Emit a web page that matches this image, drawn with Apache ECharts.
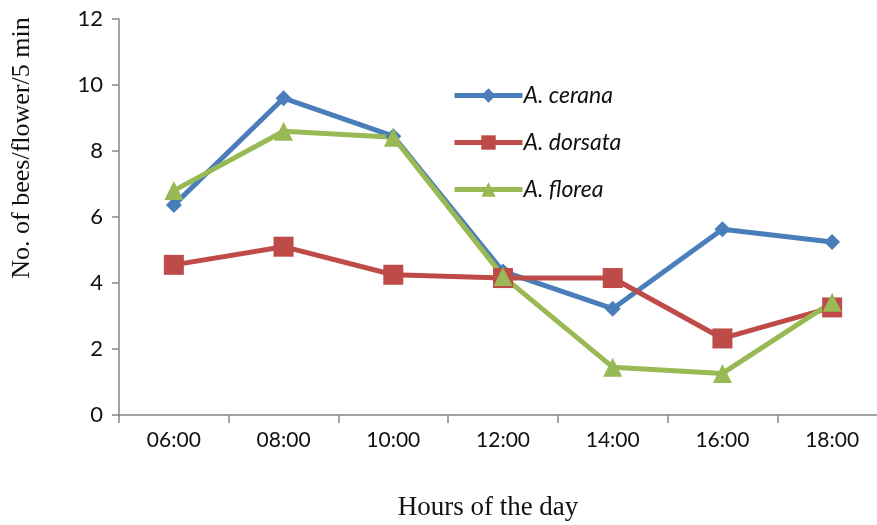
<!DOCTYPE html>
<html>
<head>
<meta charset="utf-8">
<script src="https://cdn.jsdelivr.net/npm/echarts@6/dist/echarts.min.js"></script>
<style>html,body{margin:0;padding:0;background:#fff}#c{width:877px;height:525px}</style>
</head>
<body>
<div id="c"></div>
<script>
const categories = ['06:00','08:00','10:00','12:00','14:00','16:00','18:00'];
const cerana  = [6.36, 9.6, 8.45, 4.35, 3.22, 5.63, 5.24];
const dorsata = [4.55, 5.1, 4.25, 4.15, 4.15, 2.32, 3.26];
const florea  = [6.8, 8.6, 8.42, 4.2, 1.45, 1.26, 3.42];
const seriesNames = ['A. cerana', 'A. dorsata', 'A. florea'];
const yTicks = [0, 2, 4, 6, 8, 10, 12];
const xTitle = 'Hours of the day';
const yTitle = 'No. of bees/flower/5 min';

const chart = echarts.init(document.getElementById('c'), null, {renderer: 'canvas'});
const axisColor = '#868686';
const labelFont = 'Lato, "Open Sans", sans-serif';
const serif = '"Liberation Serif", "Times New Roman", serif';
chart.setOption({
  animation: false,
  backgroundColor: '#fff',
  grid: {left: 119, top: 19, width: 768, height: 396, containLabel: false, outerBoundsMode: 'none'},
  legend: {
    orient: 'vertical',
    left: 447, top: 79,
    itemWidth: 68, itemHeight: 18,
    itemGap: 24,
    lineStyle: {width: 5},
    textStyle: {fontFamily: labelFont, fontSize: 23, fontStyle: 'italic', color: '#111', padding: [0, 0, 0, -4]},
    data: seriesNames
  },
  graphic: [{
    type: 'text', x: 22, y: 148, rotation: Math.PI / 2,
    style: {text: yTitle, align: 'center', verticalAlign: 'middle', fill: '#111',
            font: '26px ' + serif}
  }, {
    type: 'text', x: 488, y: 508,
    style: {text: xTitle, align: 'center', verticalAlign: 'middle', fill: '#111',
            font: '27px ' + serif}
  }],
  xAxis: {
    type: 'category',
    data: categories,
    boundaryGap: true,
    axisLine: {lineStyle: {color: axisColor, width: 1.5}},
    axisTick: {show: true, length: 8, lineStyle: {color: axisColor, width: 1.5}},
    axisLabel: {fontFamily: labelFont, fontSize: 21, color: '#111', margin: 15}
  },
  yAxis: {
    type: 'value',
    min: yTicks[0], max: yTicks[yTicks.length - 1], interval: 2,
    splitLine: {show: false},
    axisLine: {show: true, lineStyle: {color: axisColor, width: 1.5}},
    axisTick: {show: true, length: 7, lineStyle: {color: axisColor, width: 1.5}},
    axisLabel: {fontFamily: labelFont, fontSize: 22, color: '#111', margin: 16}
  },
  series: [
    {name: seriesNames[0], type: 'line', data: cerana, symbol: 'diamond', symbolSize: 16,
     lineStyle: {color: '#4A7EBB', width: 5}, itemStyle: {color: '#4A7EBB'}},
    {name: seriesNames[1], type: 'line', data: dorsata, symbol: 'rect', symbolSize: 20,
     lineStyle: {color: '#BE4B48', width: 5}, itemStyle: {color: '#BE4B48'}},
    {name: seriesNames[2], type: 'line', data: florea, symbol: 'triangle', symbolSize: 19,
     lineStyle: {color: '#98B954', width: 5}, itemStyle: {color: '#98B954'}}
  ]
});
</script>
</body>
</html>
